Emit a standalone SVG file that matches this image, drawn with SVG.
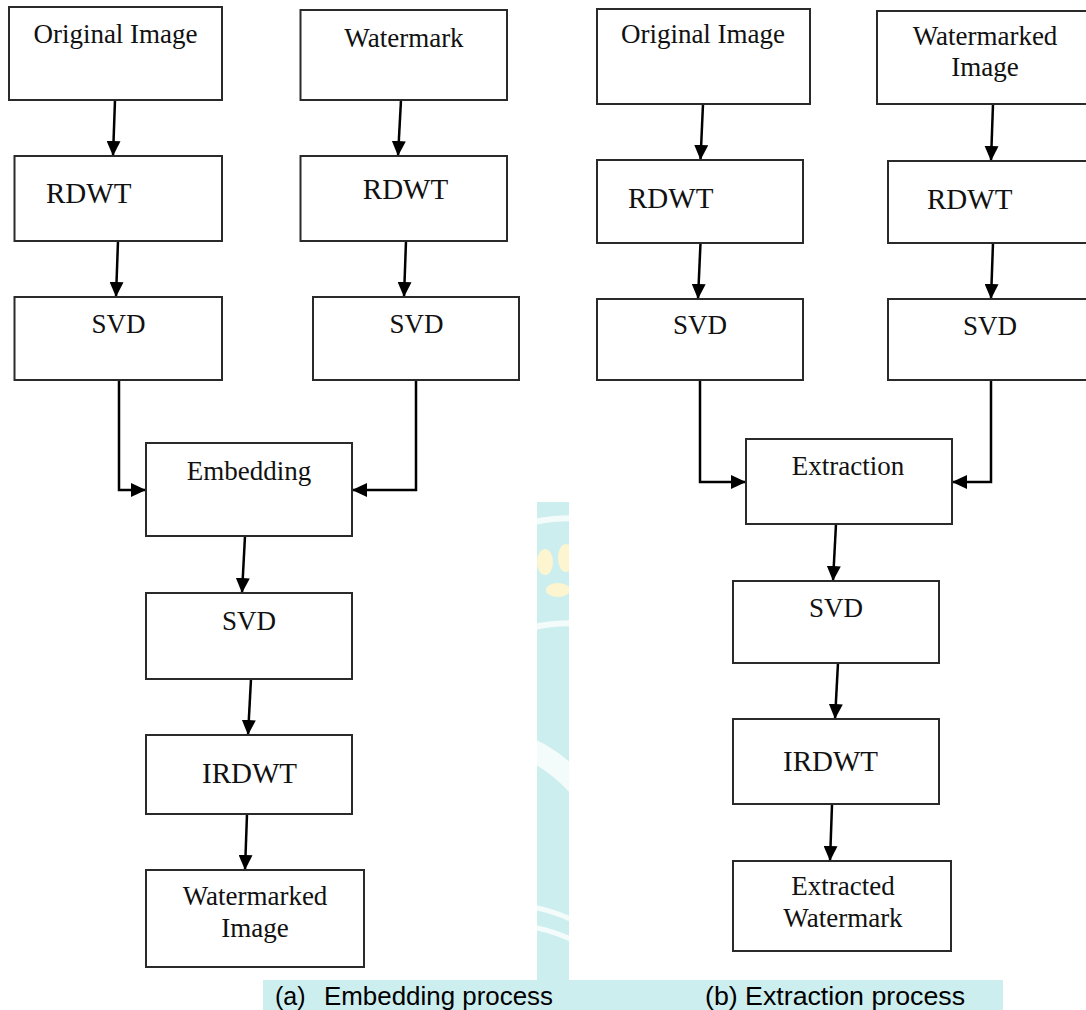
<svg xmlns="http://www.w3.org/2000/svg" width="1086" height="1010" viewBox="0 0 1086 1010">
  <style>
    .box { fill: #ffffff; stroke: #2a2a2a; stroke-width: 2; }
    .lbl { font-family: "Liberation Serif", "Times New Roman", serif; font-size: 27px; fill: #111111; }
    .big { font-size: 29px; }
    .mid { text-anchor: middle; }
    .edge { fill: none; stroke: #000000; stroke-width: 2.5; }
    .cap { font-family: "Liberation Sans", Arial, sans-serif; font-size: 25px; fill: #000000; }
  </style>
  <defs>
    <marker id="arr" markerUnits="userSpaceOnUse" markerWidth="15" markerHeight="14" refX="15" refY="7" orient="auto">
      <path d="M0,0 L15,7 L0,14 Z" fill="#000000"/>
    </marker>
    <clipPath id="strip">
      <rect x="537" y="502" width="32" height="483"/>
      <rect x="263" y="980" width="740" height="30"/>
    </clipPath>
  </defs>
  <rect width="1086" height="1010" fill="#ffffff"/>

  <g id="background-mark" clip-path="url(#strip)">
    <rect x="263" y="500" width="740" height="510" fill="#cdeeee"/>
    <path d="M520,525 Q560,515 590,520" stroke="#f4fbfb" stroke-width="6" fill="none"/>
    <ellipse cx="545" cy="562" rx="8" ry="13" fill="#fcf5d0"/>
    <ellipse cx="566" cy="558" rx="8" ry="14" fill="#fcf5d0"/>
    <ellipse cx="558" cy="590" rx="12" ry="7" fill="#fcf5d0"/>
    <path d="M520,630 Q560,620 590,625" stroke="#f4fbfb" stroke-width="6" fill="none"/>
    <path d="M520,745 Q560,760 590,800" stroke="#f4fbfb" stroke-width="22" fill="none"/>
    <path d="M520,905 Q560,910 590,930" stroke="#f4fbfb" stroke-width="5" fill="none"/>
    <path d="M520,925 Q560,930 590,950" stroke="#f4fbfb" stroke-width="5" fill="none"/>
  </g>

  <g id="connectors">
    <line class="edge" x1="115" y1="100" x2="113" y2="156" marker-end="url(#arr)"/>
    <line class="edge" x1="401" y1="100" x2="398" y2="156" marker-end="url(#arr)"/>
    <line class="edge" x1="118" y1="241" x2="116" y2="297" marker-end="url(#arr)"/>
    <line class="edge" x1="406" y1="241" x2="404" y2="297" marker-end="url(#arr)"/>
    <path class="edge" d="M119,380 V490 H146" marker-end="url(#arr)"/>
    <path class="edge" d="M416,380 V490 H352" marker-end="url(#arr)"/>
    <line class="edge" x1="245" y1="536" x2="242" y2="593" marker-end="url(#arr)"/>
    <line class="edge" x1="251" y1="679" x2="248" y2="735" marker-end="url(#arr)"/>
    <line class="edge" x1="247" y1="814" x2="245" y2="870" marker-end="url(#arr)"/>

    <line class="edge" x1="703" y1="104" x2="700.5" y2="160" marker-end="url(#arr)"/>
    <line class="edge" x1="993" y1="104" x2="991" y2="161" marker-end="url(#arr)"/>
    <line class="edge" x1="700.5" y1="243" x2="698" y2="299" marker-end="url(#arr)"/>
    <line class="edge" x1="993" y1="243" x2="991" y2="299" marker-end="url(#arr)"/>
    <path class="edge" d="M700,380 V482 H746" marker-end="url(#arr)"/>
    <path class="edge" d="M991,380 V482 H952" marker-end="url(#arr)"/>
    <line class="edge" x1="836" y1="524" x2="833" y2="581" marker-end="url(#arr)"/>
    <line class="edge" x1="838" y1="663" x2="835" y2="719" marker-end="url(#arr)"/>
    <line class="edge" x1="832" y1="805" x2="830" y2="861" marker-end="url(#arr)"/>
  </g>

  <g id="a-original-image">
    <rect class="box" x="9" y="7" width="213" height="93"/>
    <text class="lbl mid" x="115.5" y="43">Original Image</text>
  </g>
  <g id="a-watermark">
    <rect class="box" x="300.5" y="10" width="206.5" height="90"/>
    <text class="lbl mid" x="404" y="47">Watermark</text>
  </g>
  <g id="a-rdwt-1">
    <rect class="box" x="14.5" y="156" width="207.5" height="85"/>
    <text class="lbl big" x="46" y="203">RDWT</text>
  </g>
  <g id="a-rdwt-2">
    <rect class="box" x="300.5" y="156" width="206.5" height="85"/>
    <text class="lbl big mid" x="405.5" y="199">RDWT</text>
  </g>
  <g id="a-svd-1">
    <rect class="box" x="14.5" y="297" width="207.5" height="83"/>
    <text class="lbl mid" x="118.5" y="333">SVD</text>
  </g>
  <g id="a-svd-2">
    <rect class="box" x="313" y="297" width="206" height="83"/>
    <text class="lbl mid" x="416.5" y="333">SVD</text>
  </g>
  <g id="a-embedding">
    <rect class="box" x="146" y="443" width="206" height="93"/>
    <text class="lbl mid" x="249" y="480">Embedding</text>
  </g>
  <g id="a-svd-3">
    <rect class="box" x="146" y="593" width="206" height="86"/>
    <text class="lbl mid" x="249" y="630">SVD</text>
  </g>
  <g id="a-irdwt">
    <rect class="box" x="146" y="735" width="206" height="79"/>
    <text class="lbl big mid" x="249.5" y="783">IRDWT</text>
  </g>
  <g id="a-watermarked-image">
    <rect class="box" x="146" y="870" width="218" height="97"/>
    <text class="lbl mid" x="255" y="905">Watermarked</text>
    <text class="lbl mid" x="255" y="937">Image</text>
  </g>

  <g id="b-original-image">
    <rect class="box" x="597" y="9" width="213" height="95"/>
    <text class="lbl mid" x="703" y="43">Original Image</text>
  </g>
  <g id="b-watermarked-image">
    <rect class="box" x="877" y="11" width="220" height="93"/>
    <text class="lbl mid" x="985" y="45">Watermarked</text>
    <text class="lbl mid" x="985" y="76">Image</text>
  </g>
  <g id="b-rdwt-1">
    <rect class="box" x="597" y="160" width="206" height="83"/>
    <text class="lbl big" x="628" y="208">RDWT</text>
  </g>
  <g id="b-rdwt-2">
    <rect class="box" x="888" y="161" width="210" height="82"/>
    <text class="lbl big" x="927" y="209">RDWT</text>
  </g>
  <g id="b-svd-1">
    <rect class="box" x="597" y="299" width="206" height="81"/>
    <text class="lbl mid" x="700" y="334">SVD</text>
  </g>
  <g id="b-svd-2">
    <rect class="box" x="888" y="299" width="210" height="81"/>
    <text class="lbl mid" x="990" y="335">SVD</text>
  </g>
  <g id="b-extraction">
    <rect class="box" x="746" y="439" width="206" height="85"/>
    <text class="lbl mid" x="848" y="475">Extraction</text>
  </g>
  <g id="b-svd-3">
    <rect class="box" x="733" y="581" width="206" height="82"/>
    <text class="lbl mid" x="836" y="617">SVD</text>
  </g>
  <g id="b-irdwt">
    <rect class="box" x="733" y="719" width="206" height="85"/>
    <text class="lbl big" x="783" y="771">IRDWT</text>
  </g>
  <g id="b-extracted-watermark">
    <rect class="box" x="733" y="861" width="218" height="90"/>
    <text class="lbl mid" x="843" y="895">Extracted</text>
    <text class="lbl mid" x="843" y="927">Watermark</text>
  </g>

  <g id="captions">
    <text class="cap" x="275" y="1005">(a) <tspan x="324" textLength="229" lengthAdjust="spacingAndGlyphs">Embedding process</tspan></text>
    <text class="cap" x="705" y="1005" textLength="260" lengthAdjust="spacingAndGlyphs">(b) Extraction process</text>
  </g>
</svg>
